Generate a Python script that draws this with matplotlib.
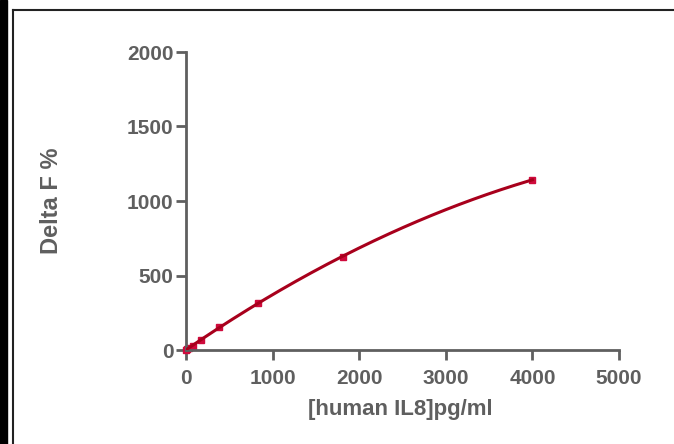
import numpy as np
import matplotlib
matplotlib.use("Agg")
import matplotlib.pyplot as plt
from matplotlib.lines import Line2D
from matplotlib.patches import Rectangle

# IL8 standard curve
conc = [0, 16, 35, 78, 171, 376, 826, 1818, 4000]
delta_f = [0, 6, 14, 30, 67, 152, 318, 626, 1143]

x_ticks = [0, 1000, 2000, 3000, 4000, 5000]
y_ticks = [0, 500, 1000, 1500, 2000]

grey = "#5f5f5f"
line_col = "#a8001c"
mark_col = "#cf0a3c"

plt.rcParams["font.family"] = ["Liberation Sans", "DejaVu Sans"]
plt.rcParams["font.weight"] = "bold"

fig = plt.figure(figsize=(6.74, 4.44), dpi=100)
ax = fig.add_axes([186 / 674, 1 - 350 / 444, (619 - 186) / 674, (350 - 52) / 444])

# smooth fit through the standards
coef = np.polyfit(conc, delta_f, 2)
xs = np.linspace(0, max(conc), 200)
ax.plot(xs, np.polyval(coef, xs), color=line_col, lw=2.2, zorder=3)
ax.plot(conc, delta_f, "s", color=mark_col, ms=5, zorder=2, clip_on=False)

ax.set_xlim(0, 5000)
ax.set_ylim(0, 2000)
ax.set_xticks(x_ticks)
ax.set_yticks(y_ticks)
for s in ["top", "right"]:
    ax.spines[s].set_visible(False)
for s in ["left", "bottom"]:
    ax.spines[s].set_color(grey)
    ax.spines[s].set_linewidth(2.0)
ax.tick_params(colors=grey, width=2.0, length=7, labelsize=15)
ax.tick_params(axis="x", pad=7)
ax.tick_params(axis="y", pad=2)
for lab in ax.get_xticklabels() + ax.get_yticklabels():
    lab.set_fontweight("bold")
ax.set_xlabel("[human IL8]pg/ml", fontsize=16, fontweight="bold", color=grey)
ax.set_ylabel("Delta F %", fontsize=17, fontweight="bold", color=grey)
ax.xaxis.set_label_coords((400 - 186) / 433, -(399 - 350) / 298)
ax.yaxis.set_label_coords((63 - 186) / 433, 0.5)

# frame around the picture
fig.patches.append(Rectangle((0, 0), 7 / 674, 1, transform=fig.transFigure, color="black"))
fig.lines.append(Line2D([13 / 674, 13 / 674], [0, 1 - 10 / 444], transform=fig.transFigure,
                        color="#222222", lw=1.5))
fig.lines.append(Line2D([13 / 674, 1], [1 - 10 / 444, 1 - 10 / 444], transform=fig.transFigure,
                        color="#222222", lw=1.5))

fig.savefig("out.png", dpi=100)
